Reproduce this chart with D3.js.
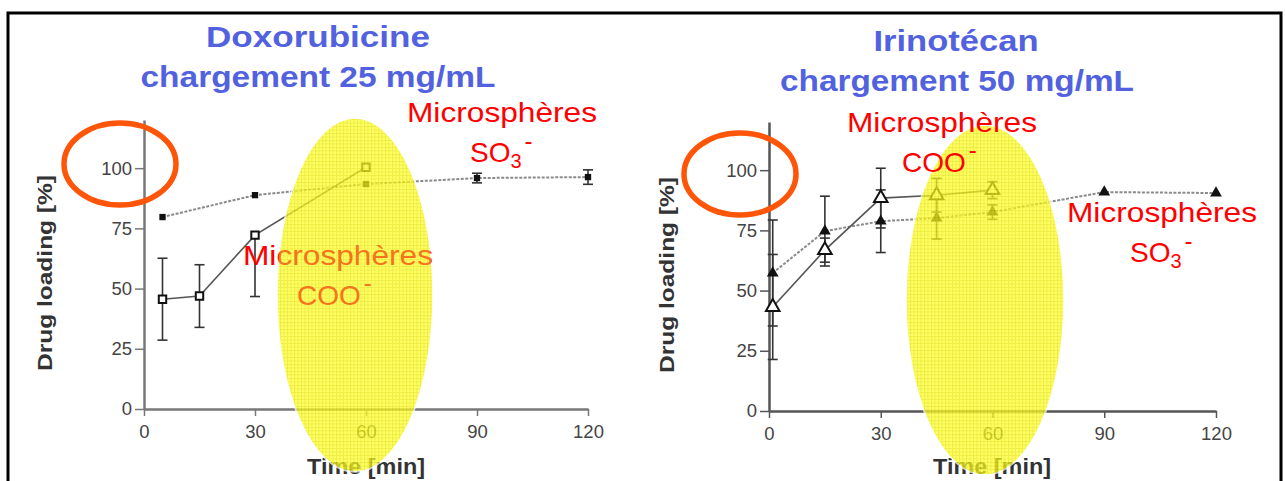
<!DOCTYPE html>
<html>
<head>
<meta charset="utf-8">
<script src="https://cdn.jsdelivr.net/npm/d3@7"></script>
<style>
    body { margin: 0; background: #fff; }
    svg text { font-family: Arial, "Liberation Sans", sans-serif; }
</style>
</head>
<body>
<div id="chart"></div>
<script>
// Doxorubicine panel (25 mg/mL)
const doxTimeSO3 = [5, 30, 60, 90, 120];
const doxLoadSO3 = [79.7, 88.8, 93.4, 95.9, 96.3];
const doxErrSO3 = [0, 0, 0, 2, 3];
const doxTimeCOO = [5, 15, 30, 60];
const doxLoadCOO = [45.6, 46.9, 72.2, 100.4];
const doxErrLowCOO = [17, 13, 25.5, 0];
const doxErrHighCOO = [17, 13, 0, 0];

// Irinotecan panel (50 mg/mL)
const iriTimeSO3 = [1, 15, 30, 45, 60, 90, 120];
const iriLoadSO3 = [57.3, 74.7, 78.8, 80.1, 82.6, 90.9, 90.5];
const iriErrSO3 = [22, 14.5, 13, 8.7, 3, 0, 0];
const iriTimeCOO = [1, 15, 30, 45, 60];
const iriLoadCOO = [43.2, 66.8, 88.4, 89.6, 91.7];
const iriErrCOO = [21.8, 5, 12.4, 7, 3.5];

const xTicks = [0, 30, 60, 90, 120];
const yTicks = [0, 25, 50, 75, 100];

const W = 1285, H = 481;

const svg = d3.select("#chart")
    .append("svg")
    .attr("width", W)
    .attr("height", H);

// yellow highlights: cx, cy, rx, ry
const hl = [[355, 295, 78, 177], [985, 300, 79, 175]];

// grid pattern for the yellow highlight
const defs = svg.append("defs");
const pat = defs.append("pattern")
    .attr("id", "grid")
    .attr("width", 3.5)
    .attr("height", 3.5)
    .attr("patternUnits", "userSpaceOnUse");
pat.append("rect").attr("width", 3.5).attr("height", 3.5).attr("fill", "#ffff30");
pat.append("path").attr("d", "M0 0.5H3.5M0.5 0V3.5").attr("stroke", "#e4e400").attr("stroke-width", 0.8);

// paint for the left COO label: red outside the highlight, orange inside
const paint = defs.append("pattern")
    .attr("id", "cooPaint")
    .attr("patternUnits", "userSpaceOnUse")
    .attr("x", 0).attr("y", 0)
    .attr("width", W).attr("height", H);
paint.append("rect").attr("width", W).attr("height", H).attr("fill", "#ff0000");
paint.append("ellipse")
    .attr("cx", hl[0][0]).attr("cy", hl[0][1])
    .attr("rx", hl[0][2]).attr("ry", hl[0][3])
    .attr("fill", "#f5731c");

// outer frame
svg.append("rect")
    .attr("x", 8).attr("y", 13)
    .attr("width", 1273).attr("height", 490)
    .attr("fill", "none")
    .attr("stroke", "#000")
    .attr("stroke-width", 3);

// titles
function title(cx, y, txt, len) {
    svg.append("text")
        .attr("x", cx).attr("y", y)
        .attr("text-anchor", "middle")
        .attr("font-size", 29)
        .attr("font-weight", "bold")
        .attr("fill", "#5262df")
        .attr("textLength", len)
        .attr("lengthAdjust", "spacingAndGlyphs")
        .text(txt);
}
title(318, 47, "Doxorubicine", 224);
title(318, 87, "chargement 25 mg/mL", 355);
title(956, 51, "Irinotécan", 165);
title(957, 91, "chargement 50 mg/mL", 354);

function drawPanel(p) {
    const x = d3.scaleLinear().domain([0, 120]).range([p.x0, p.x1]);
    const y = d3.scaleLinear().domain([0, 120]).range([p.y0, p.y0 - 289]);
    const g = svg.append("g");

    // axes
    const yAxis = g.append("g")
        .attr("transform", "translate(" + p.x0 + ",0)")
        .call(d3.axisLeft(y).tickValues(yTicks).tickSize(9).tickSizeOuter(0).tickPadding(3));
    const xAxis = g.append("g")
        .attr("transform", "translate(0," + p.y0 + ")")
        .call(d3.axisBottom(x).tickValues(xTicks).tickSize(7).tickSizeOuter(0).tickPadding(9));
    [yAxis, xAxis].forEach((a) => {
        a.attr("font-size", 18.5);
        a.select(".domain").attr("stroke", p.axisColor).attr("stroke-width", 2.5);
        a.selectAll(".tick line").attr("stroke", p.axisColor).attr("stroke-width", 1.5);
        a.selectAll(".tick text").attr("fill", "#444")
            .style("font-family", "Arial, 'Liberation Sans', sans-serif");
    });

    // axis titles
    g.append("text")
        .attr("transform", "translate(" + p.yLabelX + "," + (p.y0 - 136) + ") rotate(-90)")
        .attr("text-anchor", "middle")
        .attr("font-size", 21)
        .attr("font-weight", "bold")
        .attr("fill", "#333")
        .attr("textLength", 196)
        .attr("lengthAdjust", "spacingAndGlyphs")
        .text("Drug loading [%]");
    g.append("text")
        .attr("x", p.xLabelX).attr("y", 474)
        .attr("text-anchor", "middle")
        .attr("font-size", 22)
        .attr("font-weight", "bold")
        .attr("fill", "#333")
        .attr("textLength", 118)
        .attr("lengthAdjust", "spacingAndGlyphs")
        .text("Time [min]");

    const line = d3.line().x((d) => x(d.t)).y((d) => y(d.v));

    // SO3 series (dotted line, filled markers), COO series (solid line, open markers)
    const so3 = p.tSO3.map((t, i) => ({ t: t, v: p.vSO3[i], lo: p.eSO3[i], hi: p.eSO3[i] }));
    const coo = p.tCOO.map((t, i) => ({ t: t, v: p.vCOO[i], lo: p.eLoCOO[i], hi: p.eHiCOO[i] }));

    g.append("path").datum(so3)
        .attr("d", line)
        .attr("fill", "none")
        .attr("stroke", "#8a8a8a")
        .attr("stroke-width", 2)
        .attr("stroke-dasharray", "3,1.5");
    g.append("path").datum(coo)
        .attr("d", line)
        .attr("fill", "none")
        .attr("stroke", "#555")
        .attr("stroke-width", 1.6);

    // error bars
    [so3, coo].forEach((series) => {
        const eb = g.append("g").selectAll("g")
            .data(series.filter((d) => d.lo > 0 || d.hi > 0))
            .enter().append("g")
            .attr("stroke", "#333")
            .attr("stroke-width", 1.6);
        eb.append("line")
            .attr("x1", (d) => x(d.t)).attr("x2", (d) => x(d.t))
            .attr("y1", (d) => y(d.v - d.lo)).attr("y2", (d) => y(d.v + d.hi));
        eb.filter((d) => d.lo > 0).append("line")
            .attr("x1", (d) => x(d.t) - 5).attr("x2", (d) => x(d.t) + 5)
            .attr("y1", (d) => y(d.v - d.lo)).attr("y2", (d) => y(d.v - d.lo));
        eb.filter((d) => d.hi > 0).append("line")
            .attr("x1", (d) => x(d.t) - 5).attr("x2", (d) => x(d.t) + 5)
            .attr("y1", (d) => y(d.v + d.hi)).attr("y2", (d) => y(d.v + d.hi));
    });

    // markers
    const symSO3 = d3.symbol().type(p.shape).size(p.shape === d3.symbolSquare ? 40 : 60);
    const symCOO = d3.symbol().type(p.shape).size(p.shape === d3.symbolSquare ? 55 : 80);
    g.append("g").selectAll("path")
        .data(so3).enter().append("path")
        .attr("transform", (d) => "translate(" + x(d.t) + "," + y(d.v) + ")")
        .attr("d", symSO3)
        .attr("fill", "#111");
    g.append("g").selectAll("path")
        .data(coo).enter().append("path")
        .attr("transform", (d) => "translate(" + x(d.t) + "," + y(d.v) + ")")
        .attr("d", symCOO)
        .attr("fill", "#fff")
        .attr("stroke", "#111")
        .attr("stroke-width", 2);
}

drawPanel({
    x0: 144, x1: 588, y0: 409, yLabelX: 52, xLabelX: 366, axisColor: "#777",
    tSO3: doxTimeSO3, vSO3: doxLoadSO3, eSO3: doxErrSO3,
    tCOO: doxTimeCOO, vCOO: doxLoadCOO, eLoCOO: doxErrLowCOO, eHiCOO: doxErrHighCOO,
    shape: d3.symbolSquare
});
drawPanel({
    x0: 769, x1: 1216, y0: 411, yLabelX: 674, xLabelX: 992, axisColor: "#555",
    tSO3: iriTimeSO3, vSO3: iriLoadSO3, eSO3: iriErrSO3,
    tCOO: iriTimeCOO, vCOO: iriLoadCOO, eLoCOO: iriErrCOO, eHiCOO: iriErrCOO,
    shape: d3.symbolTriangle
});

// orange-red rings around the 100 % ticks
[[120, 164], [740, 174]].forEach((c) => {
    svg.append("ellipse")
        .attr("cx", c[0]).attr("cy", c[1])
        .attr("rx", 56).attr("ry", 41)
        .attr("fill", "none")
        .attr("stroke", "#ff5508")
        .attr("stroke-width", 5.5);
});

// red annotations
function microLabel(x, y, ion, color) {
    const lg = svg.append("g").attr("fill", color);
    lg.append("text")
        .attr("x", x).attr("y", y)
        .attr("font-size", 28)
        .attr("textLength", 190)
        .attr("lengthAdjust", "spacingAndGlyphs")
        .text("Microsphères");
    const t = lg.append("text")
        .attr("x", x + ion.dx).attr("y", y + 40)
        .attr("font-size", 28);
    if (ion.name === "SO3") {
        t.append("tspan").text("SO");
        t.append("tspan").attr("font-size", 20).attr("dy", 6).text("3");
        t.append("tspan").attr("font-size", 24).attr("dy", -19).attr("dx", 3).text("-");
    } else {
        t.append("tspan").text("COO");
        t.append("tspan").attr("font-size", 24).attr("dy", -14).attr("dx", 3).text("-");
    }
    return lg;
}

microLabel(407, 122, { name: "SO3", dx: 63 }, "#ff0000");
microLabel(1067, 222, { name: "SO3", dx: 63 }, "#ff0000");

hl.forEach((e) => {
    svg.append("ellipse")
        .attr("cx", e[0]).attr("cy", e[1])
        .attr("rx", e[2]).attr("ry", e[3])
        .attr("fill", "url(#grid)")
        .attr("opacity", 0.75)
        .attr("stroke", "#fff")
        .attr("stroke-width", 1.5);
});

// labels drawn over the highlights
microLabel(243, 265, { name: "COO", dx: 54 }, "url(#cooPaint)");
microLabel(847, 132, { name: "COO", dx: 55 }, "#ff0000");
</script>
</body>
</html>
